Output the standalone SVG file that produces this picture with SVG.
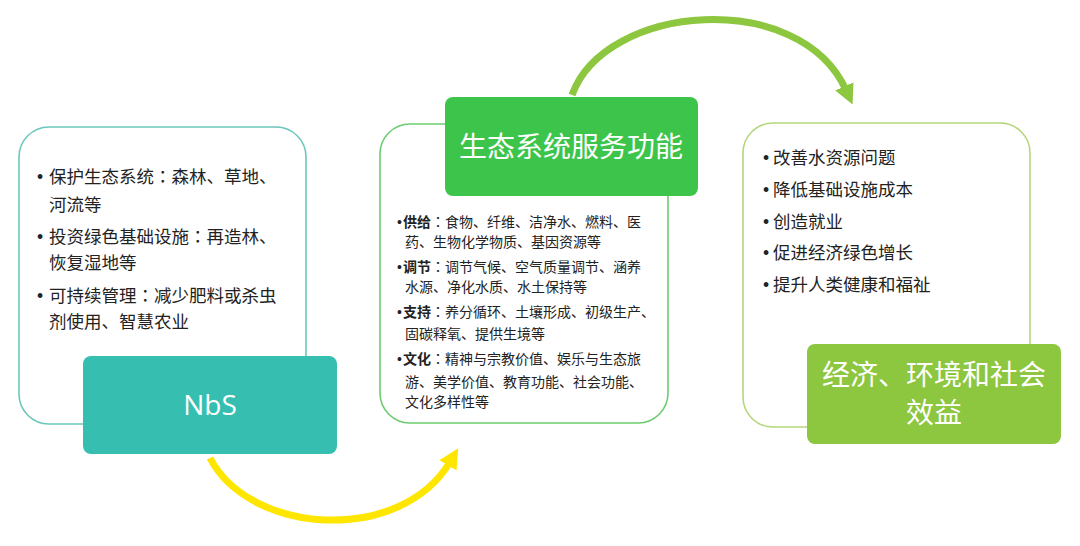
<svg xmlns="http://www.w3.org/2000/svg" width="1080" height="546" viewBox="0 0 1080 546">
<style>
.t{font-family:"Noto Sans CJK SC","Noto Sans",sans-serif;fill:#222}
.l{font-size:17.5px}
.m{font-size:14px}
.b{font-weight:bold}
.c{font-family:"Noto Sans CJK TC","Noto Sans CJK SC",sans-serif}
.d{font-family:"Liberation Sans",Arial,sans-serif}
.w{font-family:"Noto Sans CJK SC","Noto Sans",sans-serif;fill:#fff;text-anchor:middle}
.o{fill:#fff;stroke-width:1.6}
</style>
<defs>
<marker id="ay" markerUnits="userSpaceOnUse" markerWidth="24" markerHeight="24" refX="4" refY="10" orient="auto" viewBox="0 0 24 20">
<path d="M0,0 L20,10 L0,20 Z" fill="#ffe600"/>
</marker>
<marker id="ag" markerUnits="userSpaceOnUse" markerWidth="24" markerHeight="24" refX="4" refY="10" orient="auto" viewBox="0 0 24 20">
<path d="M0,0 L20,10 L0,20 Z" fill="#8dc63f"/>
</marker>
</defs>
<rect width="1080" height="546" fill="#fff"/>
<g id="connectors" fill="none" stroke-width="7">
<path d="M210,458 C250,535 400,545 450,462" stroke="#ffe600" marker-end="url(#ay)"/>
<path d="M572,95 C605,3 800,-12 846,90" stroke="#8dc63f" marker-end="url(#ag)"/>
</g>
<g id="nbs">
<rect class="o" x="19" y="127" width="287" height="297" rx="30" stroke="#6cc7bb"/>
<text class="t d l" x="37" y="183">•</text>
<text class="t d l" x="37" y="243">•</text>
<text class="t d l" x="37" y="302">•</text>
<text class="t l"><tspan x="49" y="183">保护生态系统<tspan class="c">：</tspan>森林、草地、</tspan><tspan x="49" y="211">河流等</tspan><tspan x="49" y="243">投资绿色基础设施<tspan class="c">：</tspan>再造林、</tspan><tspan x="49" y="269">恢复湿地等</tspan><tspan x="49" y="302">可持续管理<tspan class="c">：</tspan>减少肥料或杀虫</tspan><tspan x="49" y="328">剂使用、智慧农业</tspan></text>
<rect x="83" y="356" width="254" height="98" rx="8" fill="#36bfb0"/>
<text class="w" x="210" y="415" font-size="28" style="font-family:'Open Sans','Noto Sans',sans-serif">NbS</text>
</g>
<g id="ecosystem-services">
<rect class="o" x="380" y="124" width="288" height="299" rx="30" stroke="#6dcb6f"/>
<text class="t d m" x="397" y="227">•</text>
<text class="t d m" x="397" y="272">•</text>
<text class="t d m" x="397" y="317">•</text>
<text class="t d m" x="397" y="364">•</text>
<text class="t m">
<tspan x="403" y="227" class="b">供给</tspan><tspan class="c">：</tspan><tspan>食物、纤维、洁净水、燃料、医</tspan>
<tspan x="405" y="247">药、生物化学物质、基因资源等</tspan>
<tspan x="403" y="272" class="b">调节</tspan><tspan class="c">：</tspan><tspan>调节气候、空气质量调节、涵养</tspan>
<tspan x="405" y="292">水源、净化水质、水土保持等</tspan>
<tspan x="403" y="317" class="b">支持</tspan><tspan class="c">：</tspan><tspan>养分循环、土壤形成、初级生产、</tspan>
<tspan x="405" y="339">固碳释氧、提供生境等</tspan>
<tspan x="403" y="364" class="b">文化</tspan><tspan class="c">：</tspan><tspan>精神与宗教价值、娱乐与生态旅</tspan>
<tspan x="405" y="387">游、美学价值、教育功能、社会功能、</tspan>
<tspan x="405" y="407">文化多样性等</tspan>
</text>
<rect x="445" y="97" width="253" height="99" rx="8" fill="#3cc54a"/>
<text class="w" x="571" y="157" font-size="28">生态系统服务功能</text>
</g>
<g id="benefits">
<rect class="o" x="743" y="123" width="287" height="304" rx="30" stroke="#b5d67a"/>
<text class="t d l" x="763" y="164">•</text>
<text class="t d l" x="763" y="196">•</text>
<text class="t d l" x="763" y="228">•</text>
<text class="t d l" x="763" y="259">•</text>
<text class="t d l" x="763" y="291">•</text>
<text class="t l"><tspan x="773" y="164">改善水资源问题</tspan><tspan x="773" y="196">降低基础设施成本</tspan><tspan x="773" y="228">创造就业</tspan><tspan x="773" y="259">促进经济绿色增长</tspan><tspan x="773" y="291">提升人类健康和福祉</tspan></text>
<rect x="807" y="344" width="254" height="100" rx="8" fill="#8dc63f"/>
<text class="w" font-size="28"><tspan x="934" y="385">经济、环境和社会</tspan><tspan x="934" y="423">效益</tspan></text>
</g>
</svg>
